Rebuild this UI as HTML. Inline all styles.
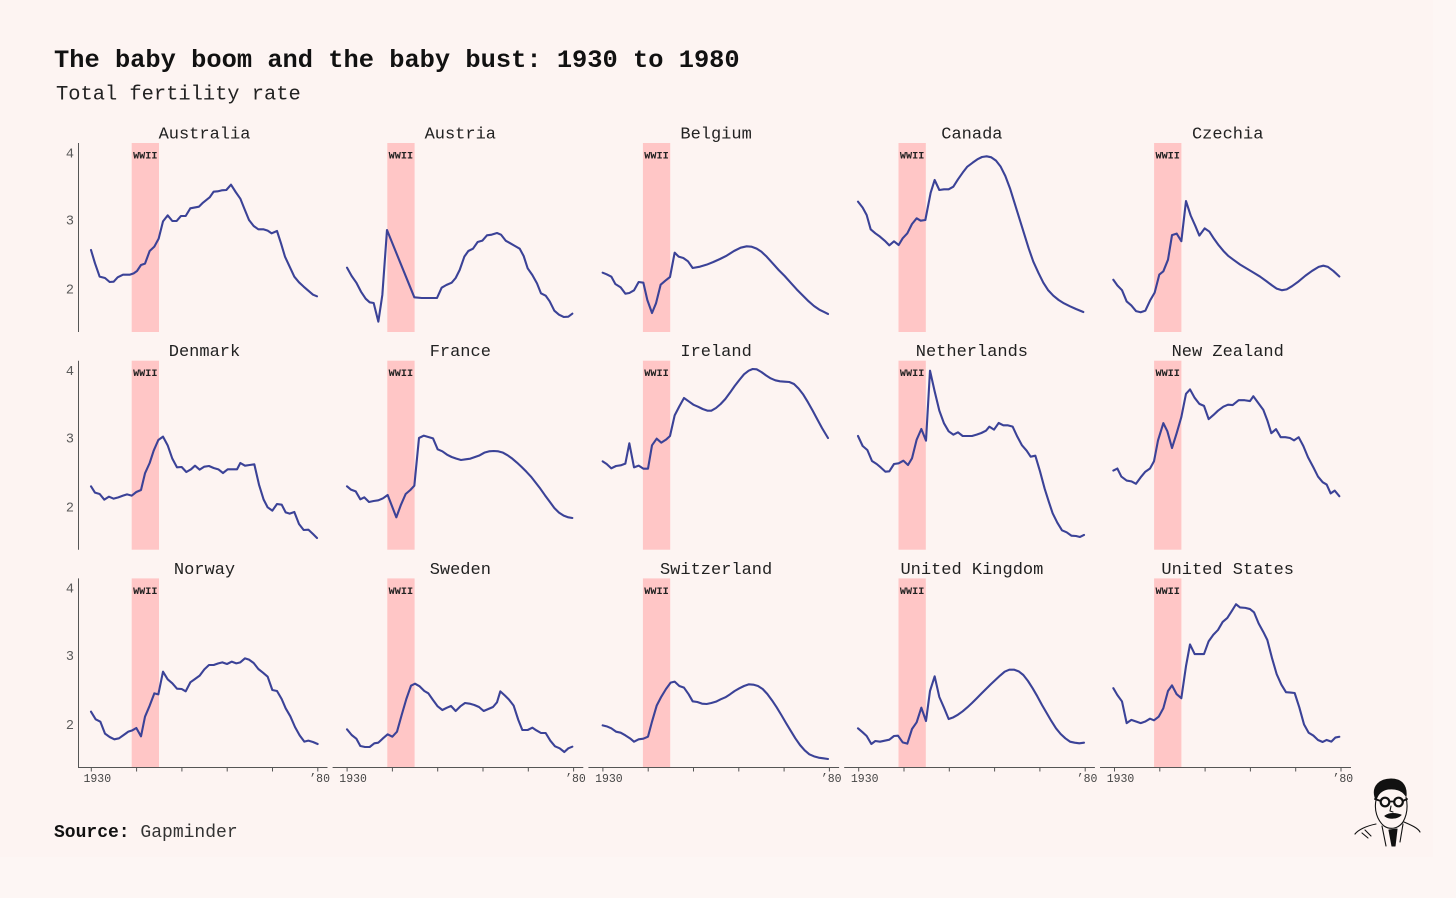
<!DOCTYPE html>
<html><head><meta charset="utf-8"><style>
html,body{margin:0;padding:0;background:#fdf5f3;}
svg{display:block;}
text{font-family:"Liberation Mono","DejaVu Sans Mono",monospace;}
.t{font-size:17px;fill:#222;text-anchor:middle;}
.w{font-size:10.2px;fill:#222;text-anchor:middle;font-weight:bold;}
.yl{font-size:13.5px;fill:#5a5a5a;text-anchor:end;}
.xl{font-size:11.5px;fill:#444;}
.band{fill:#ffc6c6;}
.ln{fill:none;stroke:#3b4297;stroke-width:2.1;stroke-linejoin:round;stroke-linecap:round;}
.ax{stroke:#555;stroke-width:1;fill:none;}
</style></head><body>
<svg width="1456" height="898" viewBox="0 0 1456 898" xmlns="http://www.w3.org/2000/svg">
<rect x="0" y="0" width="1456" height="898" fill="#fdf6f4"/>
<rect x="0" y="0" width="1433" height="857" fill="#fdf4f2"/>

<text x="54" y="67" style="font-size:25.4px;font-weight:bold;fill:#111;">The baby boom and the baby bust: 1930 to 1980</text>
<text x="56" y="99.5" style="font-size:20.4px;fill:#222;">Total fertility rate</text>

<!-- bands -->
<g>
<rect class="band" x="131.7" y="143" width="27.3" height="189"/>
<rect class="band" x="387.3" y="143" width="27.3" height="189"/>
<rect class="band" x="642.9" y="143" width="27.3" height="189"/>
<rect class="band" x="898.5" y="143" width="27.3" height="189"/>
<rect class="band" x="1154.1" y="143" width="27.3" height="189"/>
<rect class="band" x="131.7" y="360.7" width="27.3" height="189"/>
<rect class="band" x="387.3" y="360.7" width="27.3" height="189"/>
<rect class="band" x="642.9" y="360.7" width="27.3" height="189"/>
<rect class="band" x="898.5" y="360.7" width="27.3" height="189"/>
<rect class="band" x="1154.1" y="360.7" width="27.3" height="189"/>
<rect class="band" x="131.7" y="578.4" width="27.3" height="189"/>
<rect class="band" x="387.3" y="578.4" width="27.3" height="189"/>
<rect class="band" x="642.9" y="578.4" width="27.3" height="189"/>
<rect class="band" x="898.5" y="578.4" width="27.3" height="189"/>
<rect class="band" x="1154.1" y="578.4" width="27.3" height="189"/>
</g>
<g>
<text class="w" x="145.3" y="158.5">WWII</text>
<text class="w" x="400.9" y="158.5">WWII</text>
<text class="w" x="656.5" y="158.5">WWII</text>
<text class="w" x="912.1" y="158.5">WWII</text>
<text class="w" x="1167.7" y="158.5">WWII</text>
<text class="w" x="145.3" y="376.2">WWII</text>
<text class="w" x="400.9" y="376.2">WWII</text>
<text class="w" x="656.5" y="376.2">WWII</text>
<text class="w" x="912.1" y="376.2">WWII</text>
<text class="w" x="1167.7" y="376.2">WWII</text>
<text class="w" x="145.3" y="593.9">WWII</text>
<text class="w" x="400.9" y="593.9">WWII</text>
<text class="w" x="656.5" y="593.9">WWII</text>
<text class="w" x="912.1" y="593.9">WWII</text>
<text class="w" x="1167.7" y="593.9">WWII</text>
</g>

<!-- titles -->
<g>
<text class="t" x="204.5" y="138.5">Australia</text>
<text class="t" x="460.3" y="138.5">Austria</text>
<text class="t" x="716.1" y="138.5">Belgium</text>
<text class="t" x="971.9" y="138.5">Canada</text>
<text class="t" x="1227.7" y="138.5">Czechia</text>
<text class="t" x="204.5" y="356.2">Denmark</text>
<text class="t" x="460.3" y="356.2">France</text>
<text class="t" x="716.1" y="356.2">Ireland</text>
<text class="t" x="971.9" y="356.2">Netherlands</text>
<text class="t" x="1227.7" y="356.2">New Zealand</text>
<text class="t" x="204.5" y="573.9">Norway</text>
<text class="t" x="460.3" y="573.9">Sweden</text>
<text class="t" x="716.1" y="573.9">Switzerland</text>
<text class="t" x="971.9" y="573.9">United Kingdom</text>
<text class="t" x="1227.7" y="573.9">United States</text>
</g>

<!-- y axes -->
<line class="ax" x1="78.5" y1="143" x2="78.5" y2="332"/>
<line class="ax" x1="78.5" y1="360.7" x2="78.5" y2="549.7"/>
<line class="ax" x1="78.5" y1="578.4" x2="78.5" y2="767.4"/>
<text class="yl" x="74" y="157.3">4</text>
<text class="yl" x="74" y="224.6">3</text>
<text class="yl" x="74" y="293.6">2</text>
<text class="yl" x="74" y="375">4</text>
<text class="yl" x="74" y="442.3">3</text>
<text class="yl" x="74" y="511.3">2</text>
<text class="yl" x="74" y="592.7">4</text>
<text class="yl" x="74" y="660">3</text>
<text class="yl" x="74" y="729">2</text>

<!-- x axes -->
<g>
<path class="ax" d="M78 767.5H327.5M332.6 767.5H583.3M588.4 767.5H839.1M844.2 767.5H1094.9M1100 767.5H1351"/>
<path class="ax" d="M91.3 767.5v4M136.6 767.5v4M181.9 767.5v4M227.2 767.5v4M272.5 767.5v4M317.8 767.5v4
M347.1 767.5v4M392.4 767.5v4M437.7 767.5v4M483 767.5v4M528.3 767.5v4M573.6 767.5v4
M602.9 767.5v4M648.2 767.5v4M693.5 767.5v4M738.8 767.5v4M784.1 767.5v4M829.4 767.5v4
M858.7 767.5v4M904 767.5v4M949.3 767.5v4M994.6 767.5v4M1039.9 767.5v4M1085.2 767.5v4
M1114.5 767.5v4M1159.8 767.5v4M1205.1 767.5v4M1250.4 767.5v4M1295.7 767.5v4M1341 767.5v4"/>
<text class="xl" x="83.5" y="782">1930</text>
<text class="xl" x="339.3" y="782">1930</text>
<text class="xl" x="595.1" y="782">1930</text>
<text class="xl" x="850.9" y="782">1930</text>
<text class="xl" x="1106.7" y="782">1930</text>
<text class="xl" x="330" y="782" text-anchor="end">’80</text>
<text class="xl" x="585.8" y="782" text-anchor="end">’80</text>
<text class="xl" x="841.6" y="782" text-anchor="end">’80</text>
<text class="xl" x="1097.4" y="782" text-anchor="end">’80</text>
<text class="xl" x="1353.2" y="782" text-anchor="end">’80</text>
</g>

<!-- row 1 cols 1-2 -->
<g transform="matrix(0.33333 0 0 0.33333 75 140)">
<polyline class="ln" vector-effect="non-scaling-stroke" points="48,330 60,370 74,410 90,414 104,426 116,425 128,412 144,404 165,404 176,400 186,393 198,375 210,371 224,333 238,320 251,296 264,244 278,226 292,243 305,243 318,228 332,228 346,205 372,200 384,188 404,172 416,155 428,154 440,151 454,150 468,134 482,156 496,176 508,206 522,240 536,258 550,268 566,268 578,272 590,280 606,273 618,310 630,350 644,380 658,410 672,427 686,440 700,452 714,464 726,469"/>
<polyline class="ln" vector-effect="non-scaling-stroke" points="816,383 830,408 844,428 858,455 872,476 884,487 896,489 910,545 922,465 936,270 1018,472 1040,474 1060,474 1086,474 1100,443 1114,435 1130,428 1142,414 1154,390 1168,350 1180,333 1194,326 1208,306 1222,302 1236,286 1250,284 1266,279 1278,284 1292,302 1306,310 1320,318 1334,326 1346,348 1358,385 1372,405 1386,430 1398,460 1412,467 1424,484 1438,512 1452,524 1466,531 1480,530 1492,521"/>
</g>
<!-- row 1 cols 3-4 -->
<g transform="matrix(0.33333 0 0 0.33333 590 140)">
<polyline class="ln" vector-effect="non-scaling-stroke" points="38,398 50,403 64,410 76,432 92,442 106,461 118,459 132,451 146,426 160,428 172,480 186,519 198,490 212,434 226,422 240,411 254,338 266,350 280,354 294,364 308,384 330,380 350,374 370,366 390,357 410,347 432,333 452,323 470,319 484,320 500,326 514,335 530,350 548,370 566,390 584,408 602,428 620,448 638,466 656,484 672,498 688,509 702,516 714,522"/>
<polyline class="ln" vector-effect="non-scaling-stroke" points="804,185 818,203 830,225 842,268 856,280 870,290 884,302 898,316 912,304 926,315 938,295 952,280 966,252 980,235 992,242 1006,240 1022,158 1034,120 1048,150 1062,148 1076,148 1090,140 1104,118 1118,98 1132,80 1148,68 1162,58 1176,51 1190,49 1204,52 1218,62 1232,80 1246,108 1260,145 1274,190 1288,235 1302,280 1316,325 1330,365 1346,400 1360,428 1374,450 1390,467 1406,480 1422,490 1440,499 1458,507 1480,516"/>
</g>
<!-- col 5 all rows -->
<g transform="matrix(0.33333 0 0 0.4016 1100 140)">
<polyline class="ln" vector-effect="non-scaling-stroke" points="40,348 52,362 66,374 80,402 94,412 108,426 122,429 136,425 150,400 164,380 178,335 190,327 204,298 216,237 230,233 244,252 258,152 272,188 286,214 298,238 314,220 328,228 342,246 356,262 370,276 384,288 400,298 420,310 440,320 460,330 480,340 500,352 516,362 530,370 546,374 560,372 576,364 596,352 616,338 636,326 656,316 670,313 684,316 700,326 718,340"/>
<polyline class="ln" vector-effect="non-scaling-stroke" points="40,823 52,818 64,838 80,848 94,850 108,856 122,840 136,826 150,818 162,800 174,748 190,705 202,725 216,767 230,730 244,690 258,632 270,621 284,642 298,657 312,662 326,695 340,685 354,674 370,664 384,659 398,660 416,648 434,648 450,650 460,638 474,654 490,672 502,698 514,730 528,720 542,740 556,740 570,742 582,748 596,740 610,762 624,790 640,815 654,838 668,852 680,858 692,880 704,873 718,887"/>
<polyline class="ln" vector-effect="non-scaling-stroke" points="40,1365 52,1382 66,1398 80,1452 94,1444 108,1448 122,1452 136,1448 150,1441 162,1445 176,1436 190,1415 204,1372 216,1358 230,1380 244,1390 258,1310 270,1256 284,1280 298,1280 312,1280 326,1248 340,1232 354,1220 368,1200 382,1190 396,1172 408,1156 420,1164 436,1165 450,1168 462,1176 476,1204 490,1225 502,1245 516,1290 530,1330 544,1356 558,1375 572,1376 584,1377 598,1413 612,1455 626,1476 640,1483 654,1494 668,1499 680,1494 694,1498 706,1488 718,1486"/>
</g>
<!-- row 2 cols 1-2 -->
<g transform="matrix(0.33333 0 0 0.33333 75 358)">
<polyline class="ln" vector-effect="non-scaling-stroke" points="48,385 60,404 74,408 88,425 102,416 116,422 130,418 144,413 156,409 170,413 184,402 198,396 210,346 224,315 236,278 250,246 264,236 278,262 292,302 306,328 320,327 334,342 348,334 360,323 374,335 388,326 402,324 416,330 430,334 444,345 458,334 472,334 486,334 496,315 510,323 524,321 538,319 552,380 566,425 578,448 592,458 606,438 620,440 632,463 644,467 658,462 672,498 686,516 700,515 714,528 726,540"/>
<polyline class="ln" vector-effect="non-scaling-stroke" points="816,385 828,395 842,400 856,424 868,418 882,432 896,429 910,427 924,421 938,411 964,478 978,440 992,408 1006,396 1018,383 1032,240 1046,233 1060,237 1074,241 1088,274 1102,280 1116,290 1130,297 1144,302 1158,306 1172,304 1186,302 1200,297 1214,292 1228,284 1242,280 1256,279 1270,280 1284,284 1298,292 1312,302 1326,314 1340,327 1354,341 1368,356 1382,374 1396,392 1410,412 1424,431 1438,450 1452,464 1466,473 1480,478 1492,480"/>
</g>
<!-- row 2 cols 3-4 -->
<g transform="matrix(0.33333 0 0 0.33333 590 358)">
<polyline class="ln" vector-effect="non-scaling-stroke" points="38,310 50,318 64,331 78,324 92,322 106,317 118,256 132,328 146,323 160,332 174,332 186,262 200,242 214,254 228,245 240,234 254,172 268,145 282,120 296,130 310,140 324,146 338,153 352,158 364,158 378,150 392,138 406,123 420,104 434,84 448,66 462,49 476,38 488,33 500,34 514,42 528,52 542,61 556,67 570,70 584,71 598,72 612,78 626,92 640,110 654,133 668,158 682,184 696,210 714,240"/>
<polyline class="ln" vector-effect="non-scaling-stroke" points="804,234 818,264 832,276 846,309 860,318 872,328 886,341 898,340 912,318 926,316 940,308 954,321 966,301 980,245 994,213 1008,248 1020,38 1034,100 1048,158 1062,196 1076,220 1090,230 1104,223 1118,234 1132,234 1146,234 1160,230 1174,225 1188,218 1198,206 1212,215 1226,195 1240,202 1254,202 1268,206 1282,236 1296,262 1310,278 1322,296 1336,293 1350,340 1364,392 1376,430 1388,466 1402,494 1416,517 1430,523 1444,533 1458,534 1470,537 1482,531"/>
</g>
<!-- row 3 cols 1-2 -->
<g transform="matrix(0.33333 0 0 0.33333 75 575)">
<polyline class="ln" vector-effect="non-scaling-stroke" points="48,410 62,433 76,440 90,476 104,486 118,493 132,490 146,480 160,470 172,466 184,459 198,484 210,425 224,392 238,355 250,358 264,290 278,313 292,325 306,341 320,342 332,349 346,322 360,312 374,302 388,283 402,270 416,270 430,265 442,262 456,267 470,260 484,265 496,262 510,250 522,254 536,264 550,282 564,293 578,305 592,345 606,348 620,372 632,400 646,424 660,456 674,481 688,500 700,497 714,501 728,507"/>
<polyline class="ln" vector-effect="non-scaling-stroke" points="816,463 830,480 844,491 856,513 870,516 884,516 898,505 910,503 924,490 938,478 952,485 966,470 980,420 994,372 1008,332 1020,326 1034,334 1048,348 1060,355 1074,375 1088,394 1102,405 1116,398 1128,393 1142,408 1156,394 1170,384 1184,386 1198,390 1212,396 1226,408 1240,402 1254,396 1266,382 1276,349 1290,362 1302,374 1316,392 1330,435 1342,465 1358,465 1372,458 1384,466 1398,474 1412,474 1426,497 1440,514 1454,520 1468,531 1480,520 1492,515"/>
</g>
<!-- row 3 cols 3-4 -->
<g transform="matrix(0.33333 0 0 0.33333 590 575)">
<polyline class="ln" vector-effect="non-scaling-stroke" points="38,451 50,454 64,460 78,470 92,473 106,481 120,490 132,500 146,493 160,491 174,485 186,440 200,392 214,365 228,342 242,323 254,320 268,333 282,338 296,358 308,379 322,381 336,386 350,387 364,384 378,380 392,373 406,367 420,358 434,348 448,340 462,333 476,328 490,329 504,333 518,342 532,357 546,376 560,397 574,420 588,444 602,467 616,490 630,510 644,526 658,538 672,544 686,548 700,550 714,552"/>
<polyline class="ln" vector-effect="non-scaling-stroke" points="804,460 818,472 830,483 844,507 856,498 870,500 884,497 898,494 912,483 924,482 938,502 952,506 966,462 980,442 994,398 1008,438 1020,348 1034,304 1048,366 1062,398 1076,432 1090,427 1104,419 1118,409 1132,397 1146,384 1160,370 1174,356 1188,342 1202,328 1216,315 1230,302 1244,290 1258,284 1272,284 1286,289 1300,300 1314,318 1328,340 1342,364 1356,390 1370,414 1384,438 1398,460 1412,477 1426,490 1440,500 1454,503 1468,505 1482,503"/>
</g>

<!-- source -->
<text x="54" y="837" style="font-size:18px;fill:#111;"><tspan style="font-weight:bold;">Source:</tspan><tspan style="fill:#333;"> Gapminder</tspan></text>

<!-- logo sketch -->
<g fill="none" stroke="#111" stroke-width="1.1" stroke-linecap="round" stroke-linejoin="round">
<path d="M1375 797 C1372 786 1380 779 1391 779 C1401 779 1407 785 1406 796 C1402 790 1396 788 1388 789 C1382 790 1378 793 1376 800 Z" fill="#111"/>
<path d="M1376 800 C1374 810 1377 820 1384 826 C1390 830 1398 829 1403 822 C1407 815 1408 806 1406 797"/>
<circle cx="1385" cy="802" r="4.3" stroke-width="2.2"/>
<circle cx="1398.5" cy="802" r="4.3" stroke-width="2.2"/>
<path d="M1389.3 801.5 H1394.2 M1380.7 801 L1375 799 M1402.8 801 L1407 799" stroke-width="1.8"/>
<path d="M1391 806 L1390 811 L1393 812"/>
<path d="M1385 816 C1389 813 1395 813 1401 815 C1397 819 1389 819 1385 816 Z" fill="#111"/>
<path d="M1376 824 C1366 826 1358 830 1355 834 M1404 822 C1411 825 1418 828 1420 832"/>
<path d="M1382 826 L1386 846 M1403 824 L1400 842"/>
<path d="M1389 830 L1397 829 L1395 846 L1392 846 Z" fill="#111"/>
<path d="M1362 833 L1368 838 M1365 830 L1371 836"/>
</g>
</svg>
</body></html>
